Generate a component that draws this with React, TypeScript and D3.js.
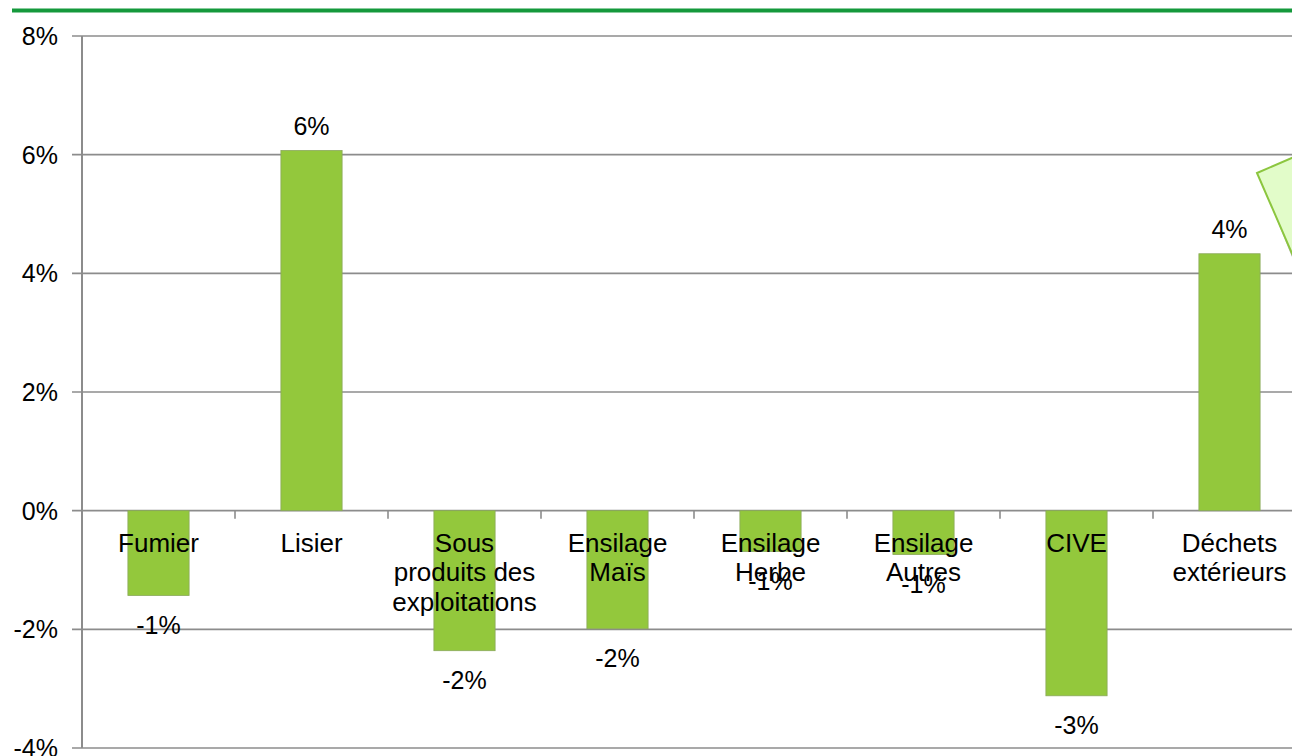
import React from "react";
import * as d3 from "d3";

const categories: string[][] = [
  ["Fumier"],
  ["Lisier"],
  ["Sous", "produits des", "exploitations"],
  ["Ensilage", "Maïs"],
  ["Ensilage", "Herbe"],
  ["Ensilage", "Autres"],
  ["CIVE"],
  ["Déchets", "extérieurs"],
];
const values: number[] = [-1.43, 6.07, -2.36, -1.99, -0.69, -0.74, -3.12, 4.33];
const yTicks: number[] = [-4, -2, 0, 2, 4, 6, 8];

const W = 1292;
const H = 756;
const FONT = "'Liberation Sans', Arial, sans-serif";

export default function App() {
  const idx = categories.map((_, i) => String(i));
  const x = d3
    .scaleBand<string>()
    .domain(idx)
    .range([82, 82 + 8 * 153])
    .paddingInner(0.6)
    .paddingOuter(0.3);
  const y = d3.scaleLinear().domain([-4, 8]).range([748, 36]);
  const y0 = y(0);
  const step = x.step();
  const left = 82;

  return (
    <svg
      width={W}
      height={H}
      style={{ position: "absolute", left: 0, top: 0, background: "#fff" }}
      fontFamily={FONT}
    >
      <rect x={0} y={0} width={W} height={H} fill="#fff" />
      {/* top green rule */}
      <line x1={12} x2={W} y1={10.5} y2={10.5} stroke="#15993c" strokeWidth={4} />

      {/* gridlines */}
      {yTicks.map((t) => (
        <line
          key={"g" + t}
          x1={72}
          x2={W}
          y1={y(t)}
          y2={y(t)}
          stroke="#8c8c8c"
          strokeWidth={1.6}
        />
      ))}
      {/* y axis line */}
      <line x1={left} x2={left} y1={y(8)} y2={y(-4)} stroke="#8c8c8c" strokeWidth={2} />
      {/* y labels */}
      {yTicks.map((t) => (
        <text
          key={"yl" + t}
          x={58}
          y={y(t) + 9}
          textAnchor="end"
          fontSize={25}
          fill="#000"
        >
          {t + "%"}
        </text>
      ))}

      {/* bars */}
      {values.map((v, i) => {
        const bx = x(String(i)) as number;
        const top = y(Math.max(0, v));
        const bot = y(Math.min(0, v));
        return (
          <rect
            key={"b" + i}
            x={bx}
            y={top}
            width={x.bandwidth()}
            height={bot - top}
            fill="#93c83c"
            stroke="#8aa85a"
            strokeWidth={0.8}
          />
        );
      })}

      {/* category ticks */}
      {categories.map((_, i) =>
        i === 0 ? null : (
          <line
            key={"ct" + i}
            x1={left + i * step}
            x2={left + i * step}
            y1={y0}
            y2={y0 + 8}
            stroke="#8c8c8c"
            strokeWidth={1.6}
          />
        )
      )}

      {/* category labels */}
      {categories.map((lines, i) => {
        const cx = (x(String(i)) as number) + x.bandwidth() / 2;
        return (
          <text key={"cl" + i} textAnchor="middle" fontSize={26} fill="#000">
            {lines.map((ln, j) => (
              <tspan key={j} x={cx} y={y0 + 41 + j * 29.5}>
                {ln}
              </tspan>
            ))}
          </text>
        );
      })}

      {/* value labels */}
      {values.map((v, i) => {
        const cx = (x(String(i)) as number) + x.bandwidth() / 2;
        const yy = v >= 0 ? y(v) - 16 : y(v) + 38;
        return (
          <text key={"vl" + i} x={cx} y={yy} textAnchor="middle" fontSize={25} fill="#000">
            {Math.round(v) + "%"}
          </text>
        );
      })}

      {/* decorative callout shape at right edge */}
      <polygon
        points="1259,176 1294,160 1294,262"
        fill="#9a9a9a"
        opacity={0.7}
      />
      <polygon
        points="1257,173 1294,157 1294,258"
        fill="#e2fcc9"
        stroke="#8cc63f"
        strokeWidth={2}
      />
    </svg>
  );
}
